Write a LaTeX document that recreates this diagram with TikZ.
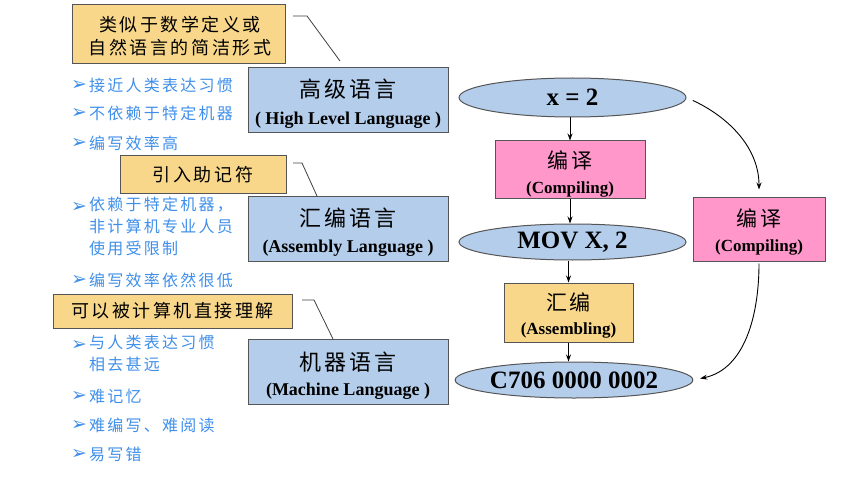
\documentclass[tikz,border=0pt]{standalone}
\usepackage{fontspec}
\setmainfont{Liberation Serif}
\newfontfamily\cjk{Noto Sans CJK SC}
\newfontfamily\cjks{Noto Sans CJK SC}[LetterSpace=14]
\newfontfamily\symf{DejaVu Sans}
\usetikzlibrary{shapes.geometric,arrows.meta}
\definecolor{lblue}{HTML}{B3CDEB}
\definecolor{lpink}{HTML}{FF97CB}
\definecolor{lyel}{HTML}{F8D78B}
\definecolor{bul}{HTML}{3F8FEA}
\definecolor{edgec}{HTML}{555555}
\tikzset{
  box/.style={draw=edgec, line width=1pt, inner sep=0pt},
  bluebox/.style={box, fill=lblue, minimum width=200pt, minimum height=65pt},
  notebox/.style={box, fill=lyel, font=\cjks\fontsize{18}{24}\selectfont},
  ell/.style={ellipse, draw=edgec, line width=1pt, fill=lblue, inner sep=0pt, font=\bfseries\fontsize{25}{25}\selectfont},
  stepbox/.style={box},
  lbl/.style={inner sep=0pt, anchor=base},
  zhbig/.style={lbl, font=\cjks\fontsize{22}{22}\selectfont},
  zhmid/.style={lbl, font=\cjks\fontsize{21}{21}\selectfont},
  zhnote/.style={lbl, font=\cjks\fontsize{18}{18}\selectfont},
  enbig/.style={lbl, font=\bfseries\fontsize{18}{18}\selectfont},
  enmid/.style={lbl, font=\bfseries\fontsize{17}{17}\selectfont},
  bularrow/.style={inner sep=0pt, text=bul, font=\symf\fontsize{19}{19}\selectfont},
  bultext/.style={inner sep=0pt, text=bul, anchor=west, align=left, font=\cjks\fontsize{16}{22}\selectfont},
  callout/.style={draw=black!75, line width=0.8pt},
  arr/.style={draw=black, line width=0.9pt, -{Stealth[length=7pt,width=5pt]}},
}
\begin{document}
\begin{tikzpicture}[x=1pt,y=-1pt]
\useasboundingbox (0,0) rectangle (866,489);

% left column boxes
\node[notebox, minimum width=213pt, minimum height=59pt] (n1) at (178.5,34.5) {};
\node[zhnote] (n1a) at (180,32) {类似于数学定义或};
\node[zhnote] (n1b) at (180,55) {自然语言的简洁形式};
\node[bluebox] (hl) at (348,100.5) {};
\node[zhbig] (hla) at (348,98) {高级语言};
\node[enbig] (hlb) at (348,125) {( High Level Language )};
\node[notebox, minimum width=166pt, minimum height=37pt] (n2) at (203,174.5) {引入助记符};
\node[bluebox] (al) at (348,228.5) {};
\node[zhbig] (ala) at (348,226) {汇编语言};
\node[enbig] (alb) at (348,252) {(Assembly Language )};
\node[notebox, minimum width=239pt, minimum height=34pt] (n3) at (172.5,311) {可以被计算机直接理解};
\node[bluebox] (ml) at (348,371.5) {};
\node[zhbig] (mla) at (348,370) {机器语言};
\node[enbig] (mlb) at (348,395) {(Machine Language )};

% callouts
\coordinate (c1a) at (293,16); \coordinate (c1b) at (307,16); \coordinate (c1c) at (340,61);
\draw[callout] (c1a) -- (c1b) -- (c1c);
\coordinate (c2a) at (293,163); \coordinate (c2b) at (302,163); \coordinate (c2c) at (317,196);
\draw[callout] (c2a) -- (c2b) -- (c2c);
\coordinate (c3a) at (302,300); \coordinate (c3b) at (314,300); \coordinate (c3c) at (333,339);
\draw[callout] (c3a) -- (c3b) -- (c3c);

% bullets
\node[bularrow] (b1a) at (79,85) {➢};
\node[bultext] (b1) at (89,85) {接近人类表达习惯};
\node[bularrow] (b2a) at (79,113) {➢};
\node[bultext] (b2) at (89,113) {不依赖于特定机器};
\node[bularrow] (b3a) at (79,143) {➢};
\node[bultext] (b3) at (89,143) {编写效率高};
\node[bularrow] (b4a) at (79,207) {➢};
\node[bultext, anchor=north west] (b4) at (89,197) {依赖于特定机器，\\非计算机专业人员\\使用受限制};
\node[bularrow] (b5a) at (79,280) {➢};
\node[bultext] (b5) at (89,280) {编写效率依然很低};
\node[bularrow] (b6a) at (79,345) {➢};
\node[bultext, anchor=north west] (b6) at (89,335) {与人类表达习惯\\相去甚远};
\node[bularrow] (b7a) at (79,396) {➢};
\node[bultext] (b7) at (89,396) {难记忆};
\node[bularrow] (b8a) at (79,425) {➢};
\node[bultext] (b8) at (89,425) {难编写、难阅读};
\node[bularrow] (b9a) at (79,454) {➢};
\node[bultext] (b9) at (89,454) {易写错};

% right flow
\node[ell, minimum width=227pt, minimum height=39pt] (e1) at (572.5,97.5) {x = 2};
\node[stepbox, fill=lpink, minimum width=150pt, minimum height=57pt] (p1) at (570,169.5) {};
\node[zhmid] (p1a) at (570,168) {编译};
\node[enmid] (p1b) at (570,193) {(Compiling)};
\node[ell, minimum width=227pt, minimum height=36pt] (e2) at (572.5,242) {MOV X, 2};
\node[stepbox, fill=lyel, minimum width=129pt, minimum height=59pt] (a1) at (568.5,312.5) {};
\node[zhmid] (a1a) at (568.5,310) {汇编};
\node[enmid] (a1b) at (568.5,334) {(Assembling)};
\node[ell, minimum width=232pt, minimum height=36pt] (e3) at (574,380) {C706 0000 0002};
\node[stepbox, fill=lpink, minimum width=132pt, minimum height=64pt] (p2) at (759,229) {};
\node[zhmid] (p2a) at (759,226) {编译};
\node[enmid] (p2b) at (759,251) {(Compiling)};

\draw[arr] (p1.north |- e1.south) -- (p1.north);
\draw[arr] (p1.south) -- (p1.south |- e2.north);
\draw[arr] (e2.south -| a1.north) -- (a1.north);
\draw[arr] (a1.south) -- (a1.south |- e3.north);
\draw[arr, shorten <=7pt, shorten >=7pt] (e1.east) to[out=-25, in=90] (p2.north);
\draw[arr, shorten <=2pt, shorten >=7pt] (p2.south) to[out=-90, in=12] (e3.east);
\end{tikzpicture}
\end{document}
